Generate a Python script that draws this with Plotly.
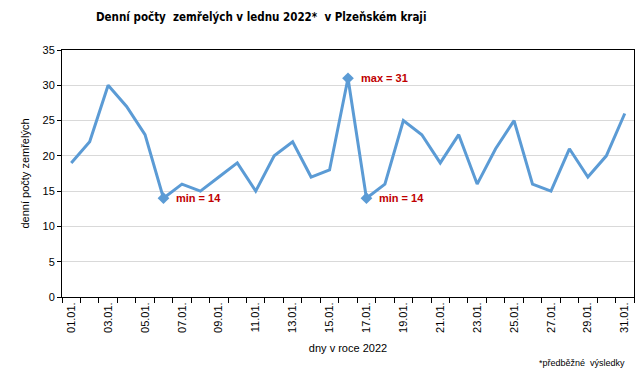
import plotly.graph_objects as go

days = ["01.01.", "02.01.", "03.01.", "04.01.", "05.01.", "06.01.", "07.01.", "08.01.",
        "09.01.", "10.01.", "11.01.", "12.01.", "13.01.", "14.01.", "15.01.", "16.01.",
        "17.01.", "18.01.", "19.01.", "20.01.", "21.01.", "22.01.", "23.01.", "24.01.",
        "25.01.", "26.01.", "27.01.", "28.01.", "29.01.", "30.01.", "31.01."]
deaths = [19, 22, 30, 27, 23, 14, 16, 15, 17, 19, 15, 20, 22, 17, 18, 31,
          14, 16, 25, 23, 19, 23, 16, 21, 25, 16, 15, 21, 17, 20, 26]
y_ticks = [0, 5, 10, 15, 20, 25, 30, 35]

FONT = "Liberation Sans, Arial, sans-serif"
BLUE = "#5B9BD5"
RED = "#C00000"

vmin, vmax = min(deaths), max(deaths)
ext_idx = [i for i, v in enumerate(deaths) if v in (vmin, vmax)]

fig = go.Figure()
fig.add_trace(go.Scatter(x=days, y=deaths, mode="lines",
                         line=dict(color=BLUE, width=3), hoverinfo="skip"))
fig.add_trace(go.Scatter(x=[days[i] for i in ext_idx], y=[deaths[i] for i in ext_idx],
                         mode="markers", marker=dict(symbol="diamond", size=9, color=BLUE),
                         hoverinfo="skip"))

for i in ext_idx:
    label = ("max = %d" if deaths[i] == vmax else "min = %d") % deaths[i]
    fig.add_annotation(x=days[i], y=deaths[i], text="<b>%s</b>" % label, showarrow=False,
                       xanchor="left", yanchor="middle", xshift=11,
                       font=dict(family=FONT, size=11, color=RED))

fig.add_annotation(text="<b>Denní počty  zemřelých v lednu 2022*  v Plzeňském kraji</b>",
                   xref="paper", yref="paper", x=0.348, y=1, yshift=24, showarrow=False,
                   xanchor="center", yanchor="bottom",
                   font=dict(family="Liberation Sans Narrow, Arial Narrow, DejaVu Sans Condensed, " + FONT,
                             size=11.5, color="#000"))
fig.add_annotation(text="*předběžné  výsledky", xref="paper", yref="paper", x=0.988, y=0,
                   yshift=-66, showarrow=False, xanchor="right", yanchor="middle",
                   font=dict(family=FONT, size=9, color="#000"))

fig.update_layout(
    width=639, height=374, showlegend=False,
    margin=dict(l=62, r=5, t=50, b=77),
    plot_bgcolor="white", paper_bgcolor="white",
    font=dict(family=FONT, size=11, color="#000"),
)
fig.update_xaxes(
    type="category", range=[-0.5, len(days) - 0.5],
    tickmode="array", tickvals=days,
    ticktext=[d if k % 2 == 0 else "" for k, d in enumerate(days)],
    tickson="boundaries", ticks="outside", ticklen=5, tickcolor="#000",
    tickangle=-90, tickfont=dict(size=11),
    showline=True, linecolor="#000", linewidth=1, mirror=True, showgrid=False,
    title=dict(text="dny v roce 2022", font=dict(size=11), standoff=12),
)
fig.update_yaxes(
    range=[0, 35], tickmode="array", tickvals=y_ticks,
    ticks="outside", ticklen=4, tickcolor="#000",
    showline=True, linecolor="#000", linewidth=1, mirror=True,
    showgrid=True, gridcolor="#D9D9D9", gridwidth=1, zeroline=False,
    title=dict(text="denní počty zemřelých", font=dict(size=11), standoff=10),
)

fig.write_html("out.html", config={"displayModeBar": False},
               post_script="document.body.style.margin='0';")
